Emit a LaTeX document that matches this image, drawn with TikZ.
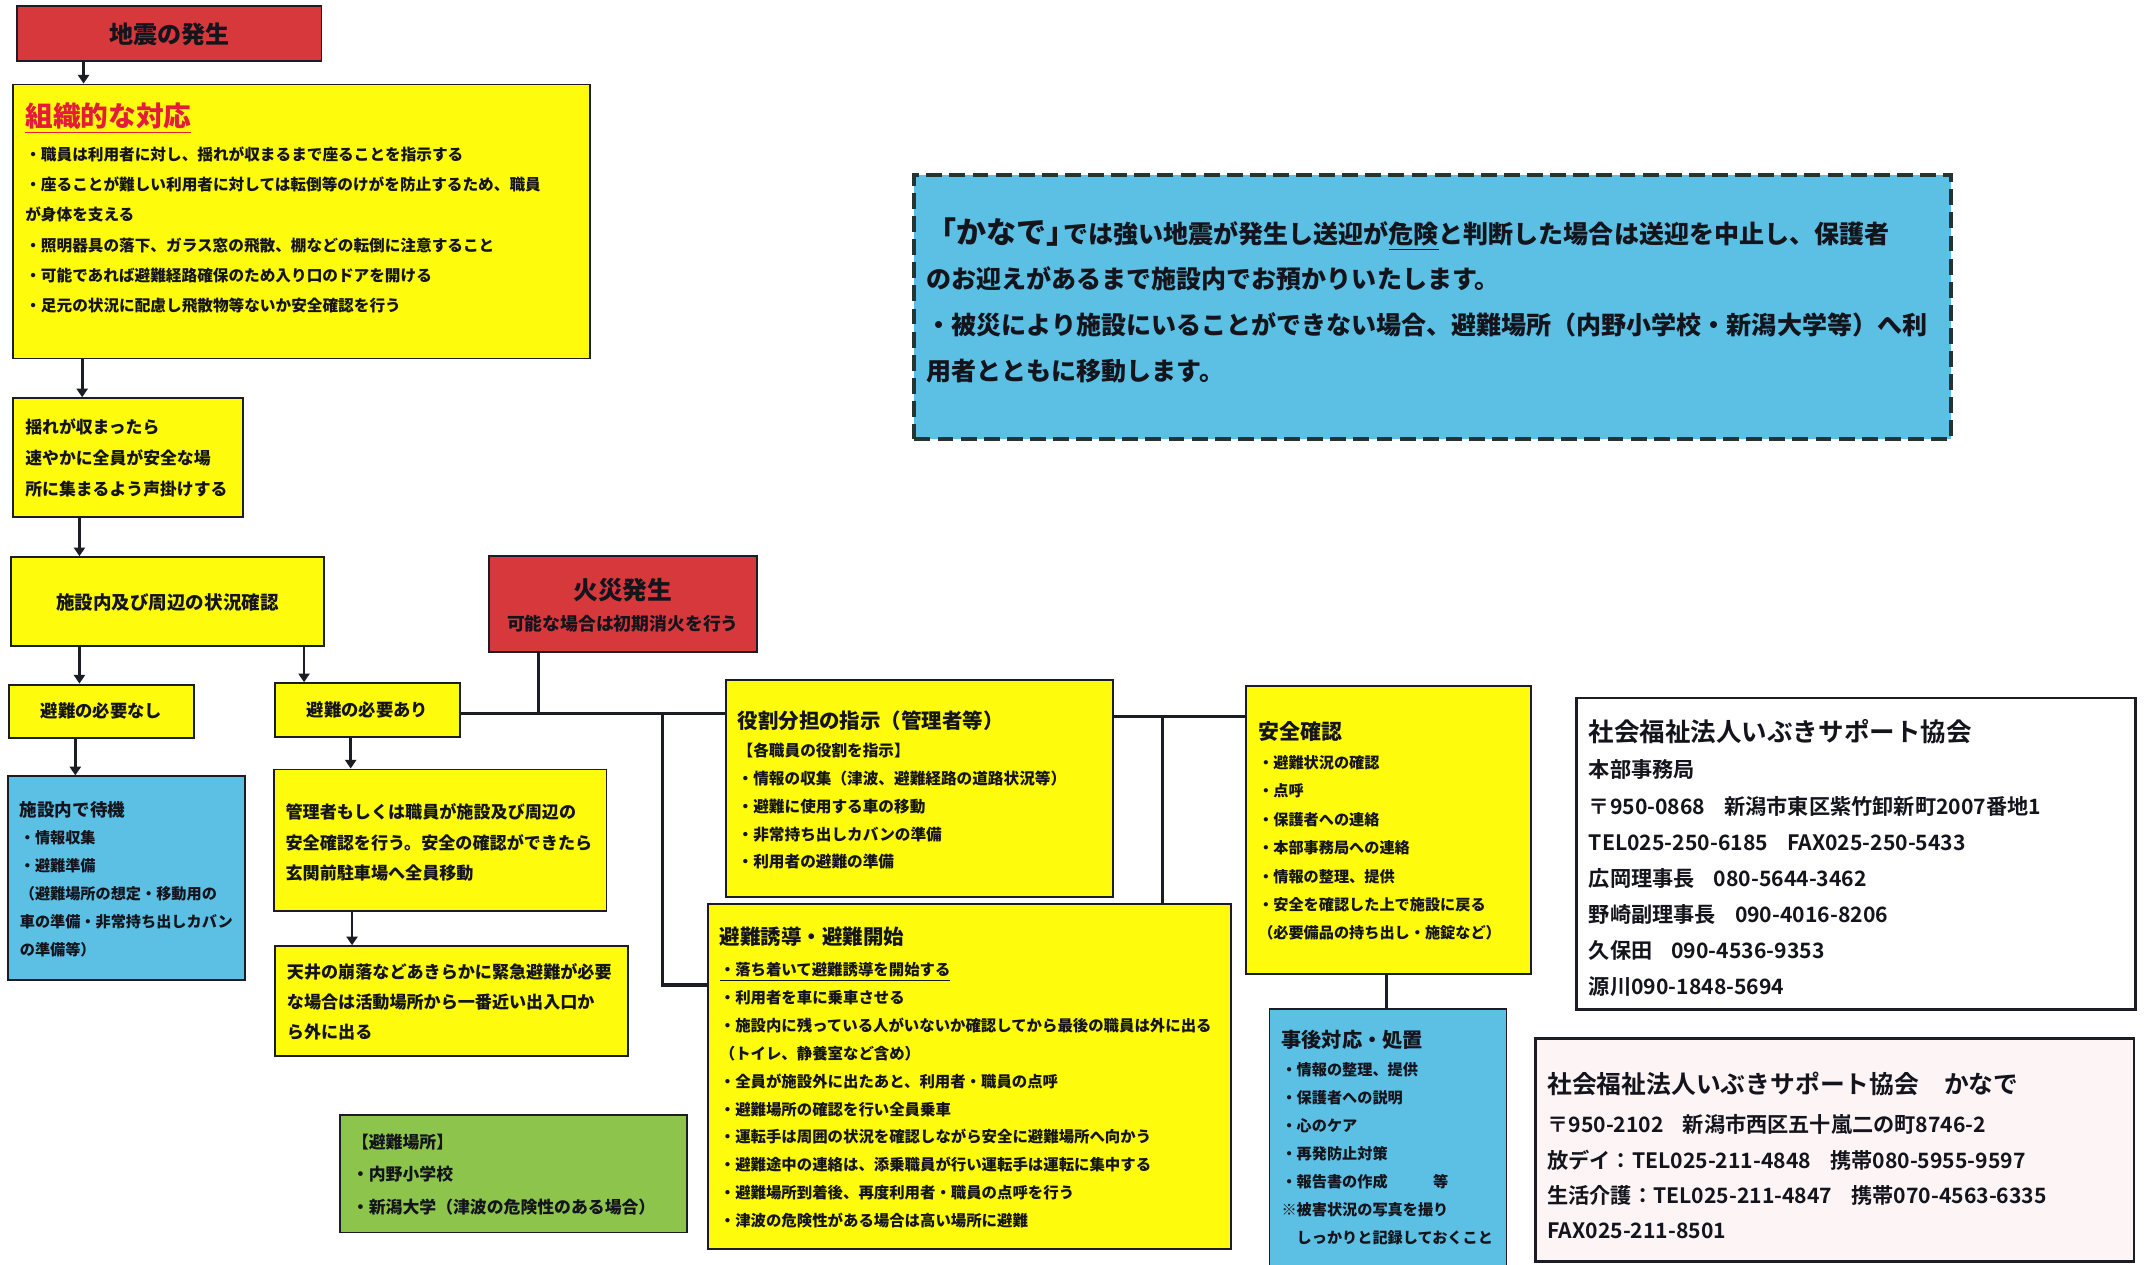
\documentclass[tikz,border=0pt]{standalone}
\usepackage{fontspec}
\setmainfont{Noto Sans CJK JP}[UprightFont=* Black]
\newfontfamily\contactfont{Noto Sans CJK JP}[UprightFont=* Bold]
\usetikzlibrary{arrows.meta,positioning}

\definecolor{boxyellow}{RGB}{255,251,12}
\definecolor{boxblue}{RGB}{92,192,228}
\definecolor{boxgreen}{RGB}{140,196,76}
\definecolor{boxred}{RGB}{214,56,60}
\definecolor{boxpink}{RGB}{253,244,246}
\definecolor{linec}{RGB}{28,28,36}
\definecolor{textc}{RGB}{20,20,28}
\definecolor{titlered}{RGB}{228,28,58}
\definecolor{dashc}{RGB}{38,52,48}

\begin{document}
\begin{tikzpicture}[
    x=0.02cm, y=-0.02cm,
    box/.style n args={3}{
        draw=linec,
        line width=0.8pt,
        anchor=north west,
        inner xsep=5pt,
        inner ysep=0pt,
        align=left,
        text=textc,
        text width={#1*0.02cm-10pt},
        text height={#3*0.02cm},
        text depth={(#2-#3)*0.02cm}},
    redbox/.style={fill=boxred, align=center},
    yellowbox/.style={fill=boxyellow},
    bluebox/.style={fill=boxblue},
    greenbox/.style={fill=boxgreen},
    infobox/.style={fill=white, line width=1.2pt},
    dashbox/.style={fill=boxblue, draw=dashc, line width=1.7pt, dash pattern=on 6.6pt off 3pt},
    myarrow/.style={-{Triangle[length=3.6pt,width=4.6pt]}, line width=1.1pt, draw=linec},
    myline/.style={-, line width=1.3pt, draw=linec}
]
\useasboundingbox (0,0) rectangle (1568,923);
\fill[white] (0,0) rectangle (1568,923);

% earthquake column
\node[box={222}{40}{27}, redbox, font=\fontsize{10}{12}\selectfont] (quake) at (12,4) {地震の発生};

\node[box={421}{200}{30.7}, yellowbox, font=\fontsize{6.5}{12.5}\selectfont] (org) at (9,61) {%
{\fontsize{11.5}{13}\selectfont\color{titlered}\underline{組織的な対応}}\\[1.7pt]
・職員は利用者に対し、揺れが収まるまで座ることを指示する\\
・座ることが難しい利用者に対しては転倒等のけがを防止するため、職員\\
が身体を支える\\
・照明器具の落下、ガラス窓の飛散、棚などの転倒に注意すること\\
・可能であれば避難経路確保のため入り口のドアを開ける\\
・足元の状況に配慮し飛散物等ないか安全確認を行う};

\node[box={168}{87}{26}, yellowbox, font=\fontsize{7}{12.8}\selectfont] (sway) at (9,290) {%
揺れが収まったら\\
速やかに全員が安全な場\\
所に集まるよう声掛けする};

\node[box={229}{65}{38}, yellowbox, align=center, font=\fontsize{7.7}{9}\selectfont] (check) at (7,406) {施設内及び周辺の状況確認};

\node[box={196}{70}{32}, redbox, font=\fontsize{10.3}{13}\selectfont] (fire) at (356,405) {%
火災発生\\
{\fontsize{7.4}{13}\selectfont 可能な場合は初期消火を行う}};

\node[box={135}{39}{24}, yellowbox, align=center, font=\fontsize{7.2}{9}\selectfont] (nonneed) at (6,499) {避難の必要なし};
\node[box={135}{39}{24}, yellowbox, align=center, font=\fontsize{7.2}{9}\selectfont] (need) at (200,498) {避難の必要あり};

\node[box={173}{149}{29}, bluebox, font=\fontsize{6.3}{11.6}\selectfont] (stay) at (5,566) {%
{\fontsize{7.3}{11.6}\selectfont 施設内で待機}\\
・情報収集\\
・避難準備\\
（避難場所の想定・移動用の\\
車の準備・非常持ち出しカバン\\
の準備等）};

\node[box={243}{103}{36}, yellowbox, font=\fontsize{7.1}{12.7}\selectfont] (mgr) at (199,561) {%
管理者もしくは職員が施設及び周辺の\\
安全確認を行う。安全の確認ができたら\\
玄関前駐車場へ全員移動};

\node[box={258}{80}{23.6}, yellowbox, font=\fontsize{7.1}{12.5}\selectfont] (ceil) at (200,690) {%
天井の崩落などあきらかに緊急避難が必要\\
な場合は活動場所から一番近い出入口か\\
ら外に出る};

\node[box={253.5}{86}{24.7}, greenbox, font=\fontsize{7}{13.4}\selectfont] (place) at (247.5,813) {%
【避難場所】\\
・内野小学校\\
・新潟大学（津波の危険性のある場合）};

% evacuation column
\node[box={283}{158}{35}, yellowbox, font=\fontsize{6.5}{11.6}\selectfont] (role) at (529,496) {%
{\fontsize{8.5}{11.6}\selectfont 役割分担の指示（管理者等）}\\
【各職員の役割を指示】\\
・情報の収集（津波、避難経路の道路状況等）\\
・避難に使用する車の移動\\
・非常持ち出しカバンの準備\\
・利用者の避難の準備};

\node[box={382}{252}{29.7}, yellowbox, font=\fontsize{6.4}{11.6}\selectfont] (evac) at (516,659) {%
{\fontsize{8.5}{11.6}\selectfont 避難誘導・避難開始}\\[1.3pt]
\underline{・落ち着いて避難誘導を開始する}\\
・利用者を車に乗車させる\\
・施設内に残っている人がいないか確認してから最後の職員は外に出る\\
（トイレ、静養室など含め）\\
・全員が施設外に出たあと、利用者・職員の点呼\\
・避難場所の確認を行い全員乗車\\
・運転手は周囲の状況を確認しながら安全に避難場所へ向かう\\
・避難途中の連絡は、添乗職員が行い運転手は運転に集中する\\
・避難場所到着後、再度利用者・職員の点呼を行う\\
・津波の危険性がある場合は高い場所に避難};

\node[box={208}{210}{38.8}, yellowbox, font=\fontsize{6.3}{11.8}\selectfont] (safe) at (909,500) {%
{\fontsize{8.7}{11.8}\selectfont 安全確認}\\[0.4pt]
・避難状況の確認\\
・点呼\\
・保護者への連絡\\
・本部事務局への連絡\\
・情報の整理、提供\\
・安全を確認した上で施設に戻る\\
（必要備品の持ち出し・施錠など）};

\node[box={173}{200}{28.2}, bluebox, font=\fontsize{6.3}{11.6}\selectfont] (after) at (926,736) {%
{\fontsize{8.4}{11.6}\selectfont 事後対応・処置}\\
・情報の整理、提供\\
・保護者への説明\\
・心のケア\\
・再発防止対策\\
・報告書の作成　　　等\\
※被害状況の写真を撮り\\
　しっかりと記録しておくこと};

% contacts
\node[box={407.5}{227.5}{32}, infobox, font=\contactfont\fontsize{8.8}{15}\selectfont] (office) at (1150,508.5) {%
{\fontsize{10.6}{15}\selectfont 社会福祉法人いぶきサポート協会}\\
本部事務局\\
〒950-0868\hspace{0.9em}新潟市東区紫竹卸新町2007番地1\\
TEL025-250-6185\hspace{0.9em}FAX025-250-5433\\
広岡理事長\hspace{0.9em}080-5644-3462\\
野崎副理事長\hspace{0.9em}090-4016-8206\\
久保田\hspace{0.9em}090-4536-9353\\
源川090-1848-5694};

\node[box={437}{163}{40.5}, infobox, fill=boxpink, font=\contactfont\fontsize{8.8}{14.6}\selectfont] (kanade) at (1119.7,757) {%
{\fontsize{10.3}{14.6}\selectfont 社会福祉法人いぶきサポート協会\hspace{1em}かなで}\\[1.6pt]
〒950-2102\hspace{0.9em}新潟市西区五十嵐二の町8746-2\\
放デイ：TEL025-211-4848\hspace{0.9em}携帯080-5955-9597\\
生活介護：TEL025-211-4847\hspace{0.9em}携帯070-4563-6335\\
FAX025-211-8501};

\node[box={757}{193}{50}, dashbox, font=\fontsize{10.4}{19}\selectfont] (notice) at (666,126) {%
{\fontsize{12.5}{19}\selectfont 「かなで」\hspace{-0.45em}}では強い地震が発生し送迎が\underline{危険}と判断した場合は送迎を中止し、保護者\\
のお迎えがあるまで施設内でお預かりいたします。\\
・被災により施設にいることができない場合、避難場所（内野小学校・新潟大学等）へ利\\
用者とともに移動します。};

% arrows down the left side
\coordinate (a1) at ([xshift=0.98cm]quake.south west);
\coordinate (a2) at ([xshift=1.02cm]org.south west);
\coordinate (a3) at ([xshift=0.98cm]sway.south west);
\coordinate (a4) at ([xshift=1.02cm]check.south west);
\coordinate (a5) at ([xshift=4.3cm]check.south west);
\coordinate (a6) at ([xshift=0.98cm]nonneed.south west);
\coordinate (a7) at ([xshift=1.12cm]need.south west);
\coordinate (a8) at ([xshift=1.16cm]mgr.south west);

\draw[myarrow] (a1) -- (a1 |- org.north);
\draw[myarrow] (a2) -- (a2 |- sway.north);
\draw[myarrow] (a3) -- (a3 |- check.north);
\draw[myarrow] (a4) -- (a4 |- nonneed.north);
\draw[myarrow] (a5) -- (a5 |- need.north);
\draw[myarrow] (a6) -- (a6 |- stay.north);
\draw[myarrow] (a7) -- (a7 |- mgr.north);
\draw[myarrow] (a8) -- (a8 |- ceil.north);

% plain joining lines
\coordinate (h0) at ([yshift=-0.05cm]need.east);
\coordinate (f1) at ([xshift=0.74cm]fire.south west);
\coordinate (j1) at ([xshift=2.94cm]h0);
\coordinate (j2) at ([yshift=-0.54cm]role.north east);
\coordinate (j3) at ([xshift=0.71cm]j2);
\coordinate (s1) at ([xshift=2.06cm]safe.south west);

\draw[myline] (h0) -- (h0 -| role.west);
\draw[myline] (f1) -- (f1 |- h0);
\draw[myline] (j1) |- ([yshift=-1.2cm]evac.north west);
\draw[myline] (j2) -- (j2 -| safe.west);
\draw[myline] (j3) -- (j3 |- evac.north);
\draw[myline] (s1) -- (s1 |- after.north);
\end{tikzpicture}
\end{document}
